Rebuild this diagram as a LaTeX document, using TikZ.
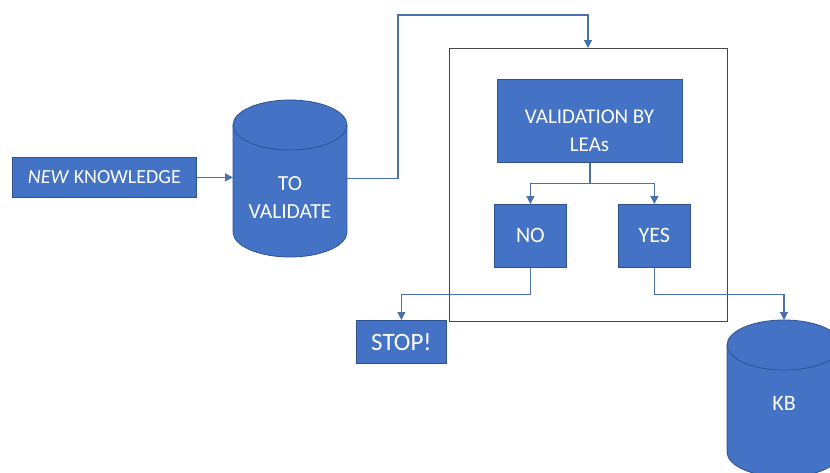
\documentclass[tikz,border=0pt]{standalone}
\usepackage{fontspec}
\setmainfont{Carlito}
\usetikzlibrary{arrows.meta}
\definecolor{boxblue}{HTML}{4472C4}
\definecolor{boxedge}{HTML}{2F528F}
\definecolor{linkblue}{HTML}{4A70AD}
\definecolor{framegray}{HTML}{454545}
\newcommand{\drawcylinder}[4]{% cx, top, bottom, ry
  \fill[boxblue] (#1-57,#2+#4) rectangle (#1+57,#3-#4);
  \fill[boxblue] (#1,#3-#4) ellipse[x radius=57, y radius=#4];
  \draw[boxedge, line width=0.8pt] (#1-57,#2+#4) -- (#1-57,#3-#4)
     arc[start angle=180, end angle=0, x radius=57, y radius=#4] -- (#1+57,#2+#4);
  \draw[boxedge, line width=0.8pt, fill=boxblue] (#1,#2+#4) ellipse[x radius=57, y radius=#4];
}
\begin{document}
\begin{tikzpicture}[x=1pt,y=-1pt,
  box/.style={draw=boxedge, fill=boxblue, line width=0.8pt, text=white,
    font=\fontsize{22}{28}\selectfont, inner sep=0pt, align=center, anchor=north west},
  label/.style={text=white, font=\fontsize{21.5}{28}\selectfont, align=center, inner sep=0pt},
  ghost/.style={inner sep=0pt, outer sep=0pt},
  link/.style={draw=linkblue, line width=1.3pt, -{Triangle[length=8pt,width=8pt]}}]
\useasboundingbox (0,0) rectangle (830,472);
\clip (0,0) rectangle (830,472);

% cylinders
\drawcylinder{290}{100}{257}{25}
\node[ghost, minimum width=114pt, minimum height=157pt] (tvc) at (290,178.5) {};
\node[label] (tv) at (290,198) {TO\\VALIDATE};

\drawcylinder{784}{320}{477}{25}
\node[ghost, minimum width=114pt, minimum height=157pt] (kbc) at (784,398.5) {};
\node[label, font=\fontsize{22}{28}\selectfont] (kb) at (784,403) {KB};

% boxes
\node[box, minimum width=184pt, minimum height=40pt, font=\fontsize{20}{28}\selectfont] (nk) at (12,157) {\textit{NEW} KNOWLEDGE};
\node[draw=framegray, line width=1.2pt, minimum width=278pt, minimum height=273pt,
  inner sep=0pt, anchor=north west] (frm) at (449,48) {};
\node[box, minimum width=185pt, minimum height=83pt] (val) at (497,79) {};
\node[label, font=\fontsize{21}{28}\selectfont] (valtext) at (589.5,131) {VALIDATION BY\\LEAs};
\node[box, minimum width=72pt, minimum height=63pt] (no) at (494,204) {NO};
\node[box, minimum width=72pt, minimum height=63pt] (yes) at (618,204) {YES};
\node[box, minimum width=90pt, minimum height=43pt, font=\fontsize{25}{28}\selectfont] (stop) at (356,320) {STOP!};

% connectors
\coordinate (up1) at (398,15);
\coordinate (up2) at (588,15);
\draw[link] (nk.east) -- (nk.east -| tvc.west);
\draw[link] (tvc.east) -| (up1) -- (up2) -- (up2 |- frm.north);
\draw[link] (val.south) -- ++(0,21) -| (no.north);
\draw[link] (val.south) -- ++(0,21) -| (yes.north);
\draw[link] (no.south) -- ++(0,27) -| (stop.north);
\draw[link] (yes.south) -- ++(0,27) -| (kbc.north);
\end{tikzpicture}
\end{document}
